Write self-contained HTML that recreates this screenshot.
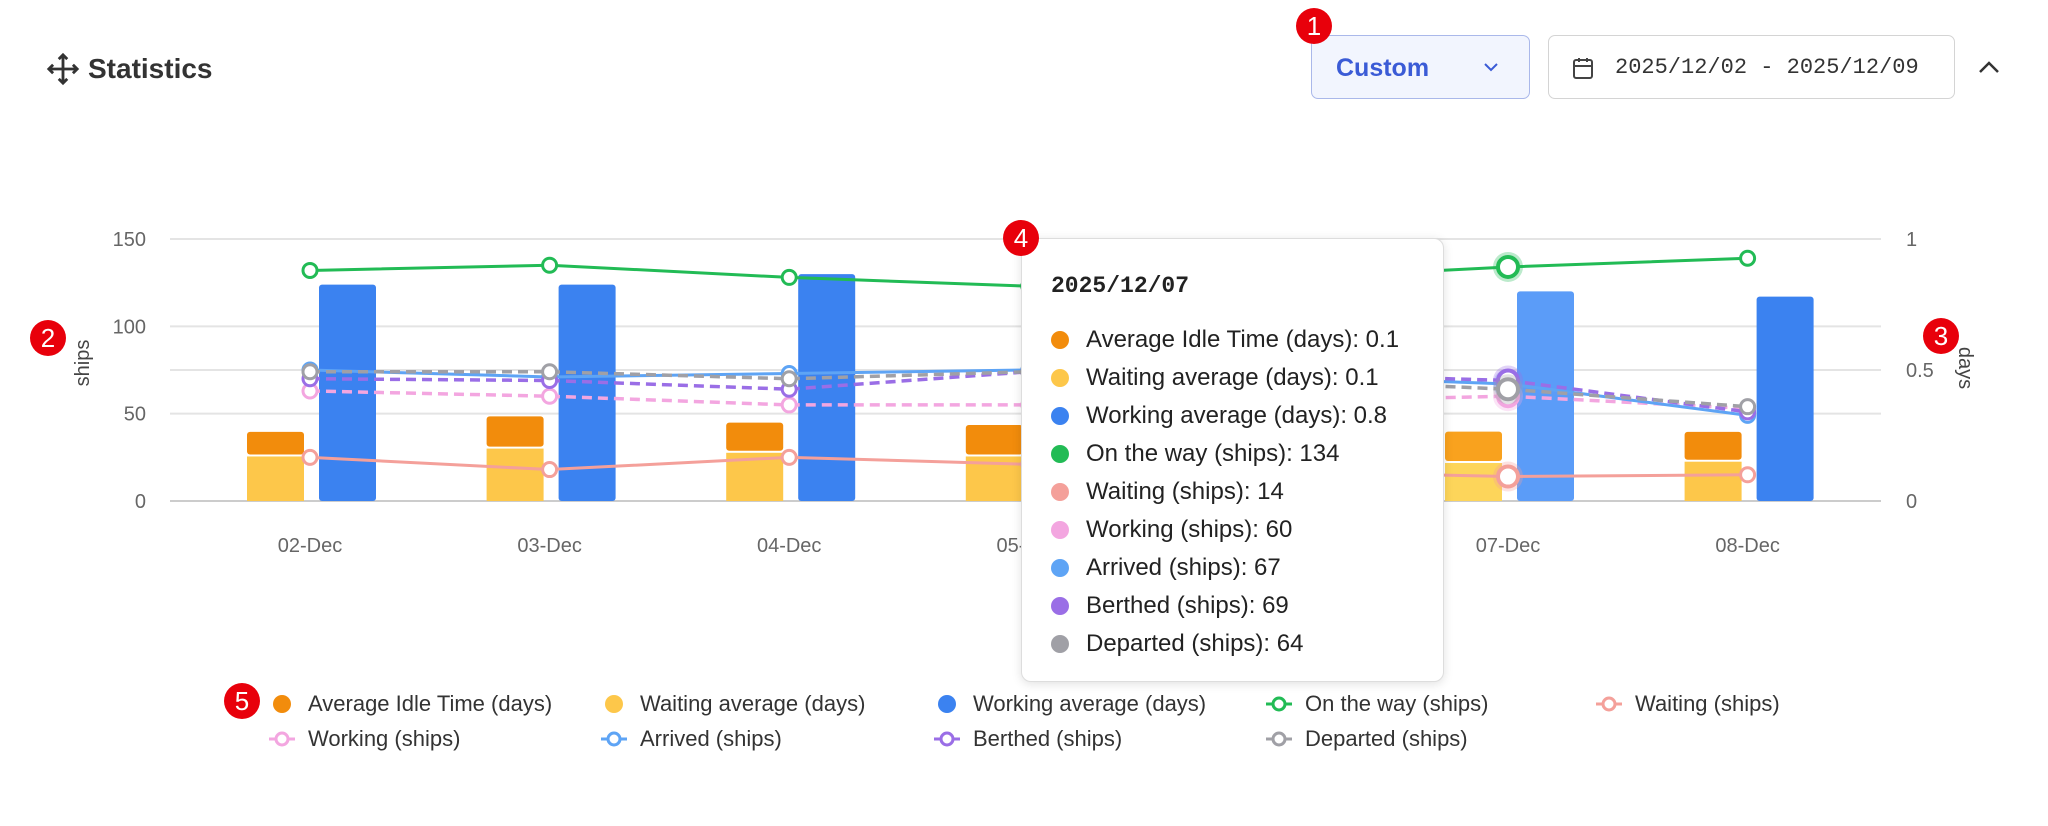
<!DOCTYPE html>
<html><head><meta charset="utf-8"><style>
body{margin:0;width:2048px;height:826px;background:#fff;font-family:"Liberation Sans",sans-serif;overflow:hidden;position:relative}
.abs{position:absolute}
.badge{position:absolute;width:36px;height:36px;border-radius:50%;background:#e8000b;color:#fff;font-size:26px;line-height:36px;text-align:center}
.tt-row{display:flex;align-items:center;height:37px;font-size:24px;color:#222;white-space:nowrap}
.tt-dot{width:18px;height:18px;border-radius:50%;margin-right:17px}
</style></head><body>
<div class="abs" style="left:46px;top:52px;display:flex;align-items:center">
 <svg width="34" height="34" viewBox="0 0 24 24" fill="none" stroke="#333" stroke-width="2"><path d="M12 2v20M2 12h20M9 5l3-3 3 3M9 19l3 3 3-3M5 9l-3 3 3 3M19 9l3 3-3 3"/></svg>
 <span style="font-size:28px;font-weight:bold;color:#333;margin-left:8px">Statistics</span>
</div>
<div class="abs" style="left:1311px;top:35px;width:219px;height:64px;border:1.5px solid #aab8ea;border-radius:7px;background:#f2f5fe;box-sizing:border-box">
 <span style="position:absolute;left:24px;top:18px;font-size:25px;color:#3b5bd6;font-weight:bold">Custom</span>
 <svg style="position:absolute;left:172px;top:26px" width="14" height="10"><path d="M1 2l6 6 6-6" fill="none" stroke="#3b5bd6" stroke-width="2"/></svg>
</div>
<div class="abs" style="left:1548px;top:35px;width:407px;height:64px;border:1.5px solid #d4d4d4;border-radius:7px;box-sizing:border-box">
 <svg style="position:absolute;left:22px;top:20px" width="24" height="24" viewBox="0 0 24 24" fill="none" stroke="#444" stroke-width="2"><rect x="3" y="4" width="18" height="18" rx="2"/><path d="M3 10h18M8 2v4M16 2v4"/></svg>
 <span style="position:absolute;left:66px;top:19px;font-size:22px;color:#333;font-family:'Liberation Mono',monospace">2025/12/02 - 2025/12/09</span>
</div>
<svg class="abs" style="left:1978px;top:60px" width="22" height="14"><path d="M2 12l9-9 9 9" fill="none" stroke="#333" stroke-width="2.5"/></svg>

<svg id="chart" class="abs" style="left:0;top:0" width="2048" height="826"></svg>

<div class="abs" style="left:1021px;top:238px;width:423px;height:444px;border:1px solid #ddd;border-radius:10px;background:#fff;box-shadow:0 2px 10px rgba(0,0,0,.12);box-sizing:border-box;padding:34px 0 0 29px">
 <div style="font-family:'Liberation Mono',monospace;font-weight:bold;font-size:23px;color:#222;margin-bottom:22px">2025/12/07</div>
 <div id="ttrows"></div>
</div>

<div class="badge" style="left:1296px;top:8px">1</div>
<div class="badge" style="left:30px;top:320px">2</div>
<div class="badge" style="left:1923px;top:318px">3</div>
<div class="badge" style="left:1003px;top:220px">4</div>
<div class="badge" style="left:224px;top:683px">5</div>

<div id="legend"></div>

<script>
const categories=["02-Dec","03-Dec","04-Dec","05-Dec","06-Dec","07-Dec","08-Dec"];
const idleDays=[0.094,0.123,0.115,0.12,0.12,0.12,0.114];
const waitingDays=[0.17,0.2,0.184,0.17,0.16,0.145,0.15];
const workingDays=[0.826,0.826,0.866,0.83,0.82,0.8,0.78];
const onTheWay=[132,135,128,123,127,134,139];
const waitingShips=[25,18,25,21,17,14,15];
const workingShips=[63,60,55,55,57,60,53];
const arrivedShips=[75,71,73,75,72,67,49];
const berthedShips=[70,69,64,74,73,69,51];
const departedShips=[74,74,70,74,70,64,54];
const leftTicks=[0,50,100,150];
const rightTicks=[0,0.5,1];
const hoverIndex=5;

const NS="http://www.w3.org/2000/svg";
const svg=document.getElementById('chart');
const y0=501,yTop=239,xL=170,xR=1881;
const yL=v=>y0-(v/150)*(y0-yTop);
const yR=v=>y0-v*(y0-yTop);
const xC=i=>310+i*239.6;
function mk(t,a){const e=document.createElementNS(NS,t);for(const k in a)e.setAttribute(k,a[k]);svg.appendChild(e);return e;}

leftTicks.forEach(v=>{
 const l=mk('line',{x1:xL,x2:xR,y1:yL(v),y2:yL(v),stroke:v===0?'#ccc':'#e4e4e4','stroke-width':2});
 
 
 const t=mk('text',{x:146,y:yL(v)+7,'text-anchor':'end','font-size':20,fill:'#666'});t.textContent=v;
 
 
});
rightTicks.forEach(v=>{
 if(v===0.5){const l=mk('line',{x1:xL,x2:xR,y1:yR(v),y2:yR(v),stroke:'#e4e4e4','stroke-width':2});
 
 }
 const t=mk('text',{x:1906,y:yR(v)+7,'font-size':20,fill:'#666'});t.textContent=v;
 
 
});
let at=mk('text',{x:0,y:0,'font-size':20,fill:'#444',transform:'translate(89,363) rotate(-90)','text-anchor':'middle'});at.textContent='ships';


at=mk('text',{x:0,y:0,'font-size':20,fill:'#444',transform:'translate(1959,368) rotate(90)','text-anchor':'middle'});at.textContent='days';


categories.forEach((c,i)=>{
 const t=mk('text',{x:xC(i),y:552,'text-anchor':'middle','font-size':20,fill:'#666'});t.textContent=c;
 
 
});
categories.forEach((c,i)=>{
 const hv=i===hoverIndex;
 let b=mk('rect',{x:xC(i)-63,y:yR(waitingDays[i]),width:57,height:y0-yR(waitingDays[i]),fill:hv?'#fdd55a':'#fdc74a'});
 
 
 b=mk('rect',{x:xC(i)-63,y:yR(waitingDays[i]+idleDays[i]),width:57,height:yR(waitingDays[i])-yR(waitingDays[i]+idleDays[i])-2,rx:3,fill:hv?'#f9a21e':'#f28c0c'});
 
 
 b=mk('rect',{x:xC(i)+9,y:yR(workingDays[i]),width:57,height:y0-yR(workingDays[i]),rx:3,fill:hv?'#5b9cf8':'#3b82f0'});
 
 
});
const lines=[
 {d:onTheWay,c:'#22bb55',dash:null,n:'on-the-way'},
 {d:waitingShips,c:'#f4a09a',dash:null,n:'waiting'},
 {d:workingShips,c:'#f3a6e0',dash:'10 6',n:'working'},
 {d:arrivedShips,c:'#5ea4f5',dash:null,n:'arrived'},
 {d:berthedShips,c:'#9a6ee6',dash:'10 6',n:'berthed'},
 {d:departedShips,c:'#a0a0a6',dash:'10 6',n:'departed'}];
lines.forEach(s=>{
 const p=mk('polyline',{points:s.d.map((v,i)=>xC(i)+','+yL(v)).join(' '),fill:'none',stroke:s.c,'stroke-width':s.dash?3.5:3,'stroke-dasharray':s.dash||'none'});
 
 
 s.d.forEach((v,i)=>{
  const hv=i===hoverIndex;
  if(hv){const h=mk('circle',{cx:xC(i),cy:yL(v),r:15,fill:s.c,opacity:0.3});
   
   }
  const pt=mk('circle',{cx:xC(i),cy:yL(v),r:hv?10:7,fill:'#fff',stroke:s.c,'stroke-width':hv?4:3});
  
  
 });
});
const ttLabels=["Average Idle Time (days): 0.1","Waiting average (days): 0.1","Working average (days): 0.8","On the way (ships): 134","Waiting (ships): 14","Working (ships): 60","Arrived (ships): 67","Berthed (ships): 69","Departed (ships): 64"];
const ttColors=['#f28c0c','#fdc74a','#3b82f0','#22bb55','#f4a09a','#f3a6e0','#5ea4f5','#9a6ee6','#a0a0a6'];
const tr=document.getElementById('ttrows');
ttLabels.forEach((l,i)=>{
 const r=document.createElement('div');r.className='tt-row';
 
 
 r.style.height='38px';
 r.innerHTML='<span class="tt-dot" style="background:'+ttColors[i]+'"></span>'+l;
 tr.appendChild(r);
});
const legNames=["Average Idle Time (days)","Waiting average (days)","Working average (days)","On the way (ships)","Waiting (ships)","Working (ships)","Arrived (ships)","Berthed (ships)","Departed (ships)"];
const legX=[282,614,947,1279,1609];
const lg=document.getElementById('legend');
legNames.forEach((n,i)=>{
 const row=Math.floor(i/5),col=i%5;
 const d=document.createElement('div');
 
 
 d.style.cssText='position:absolute;left:'+(legX[col]-14)+'px;top:'+(row?725:690)+'px;display:flex;align-items:center;font-size:22px;color:#333;height:28px;white-space:nowrap';
 const icon=i<3?'<svg width="28" height="20"><circle cx="14" cy="10" r="9" fill="'+ttColors[i]+'"/></svg>':
  '<svg width="28" height="20"><line x1="1" y1="10" x2="27" y2="10" stroke="'+ttColors[i]+'" stroke-width="3"/><circle cx="14" cy="10" r="6" fill="#fff" stroke="'+ttColors[i]+'" stroke-width="3"/></svg>';
 d.innerHTML=icon+'<span style="margin-left:12px">'+n+'</span>';
 lg.appendChild(d);
});
</script>
</body></html>
